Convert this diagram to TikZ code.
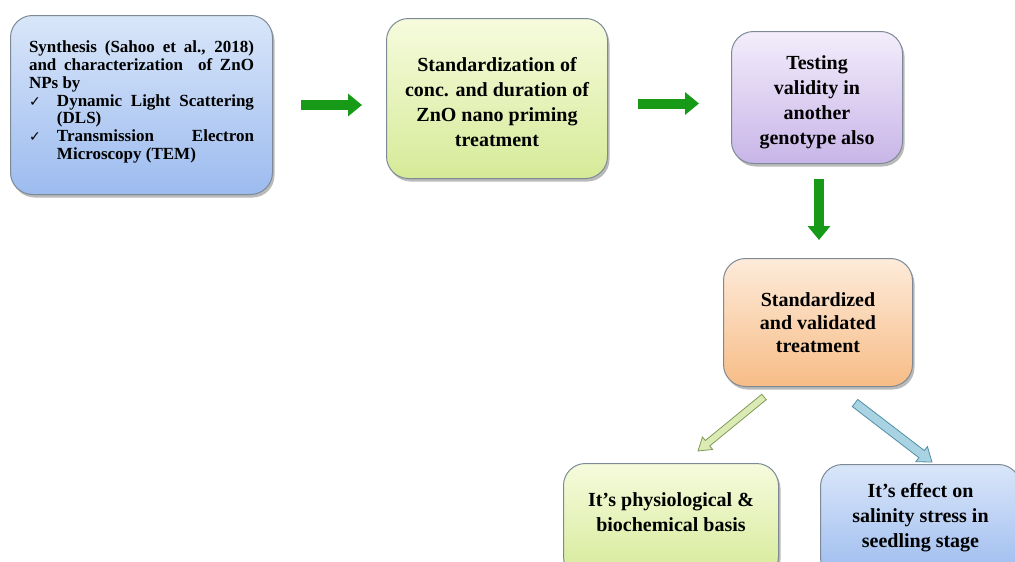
\documentclass[tikz,border=0pt]{standalone}
\usepackage{fontspec}
\setmainfont{Liberation Serif}
\newfontfamily\checkfont{DejaVu Sans}
\usetikzlibrary{shadows,arrows.meta,calc}
\definecolor{bluetop}{HTML}{D9E6F9}
\definecolor{bluebot}{HTML}{9CBBEF}
\definecolor{greentop}{HTML}{F6FBDD}
\definecolor{greenbot}{HTML}{D6EA98}
\definecolor{purptop}{HTML}{F3EDFB}
\definecolor{purpbot}{HTML}{C8B5E8}
\definecolor{orgtop}{HTML}{FDEBDA}
\definecolor{orgbot}{HTML}{F7BC86}
\definecolor{boxline}{HTML}{7D8A96}
\definecolor{arrgreen}{HTML}{169A18}
\definecolor{lgfill}{HTML}{DCEBB4}
\definecolor{lgline}{HTML}{7F9A58}
\definecolor{lbfill}{HTML}{A9D3E2}
\definecolor{lbline}{HTML}{4F8FA6}
\tikzset{
  box/.style={rounded corners=22pt, draw=boxline, line width=1pt, align=center,
    font=\bfseries\fontsize{20}{25}\selectfont,
    drop shadow={shadow xshift=2pt, shadow yshift=-3pt, fill=black!45, opacity=0.6}},
  bluebox/.style={box, top color=bluetop, bottom color=bluebot},
  greenbox/.style={box, top color=greentop, bottom color=greenbot},
  purpbox/.style={box, top color=purptop, bottom color=purpbot},
  orgbox/.style={box, top color=orgtop, bottom color=orgbot},
  bigarrow/.style={draw=arrgreen, line width=10pt, -{Triangle[width=22pt,length=14pt]}},
}
\newcommand{\chk}{\makebox[28pt][l]{\checkfont\mdseries\fontsize{14}{14}\selectfont ✓}}
\begin{document}
\begin{tikzpicture}[x=1pt,y=-1pt]
\useasboundingbox (0,0) rectangle (1015,562);
\begin{scope}
\clip (0,0) rectangle (1015,562);
% box 1
\node[bluebox, minimum width=262pt, minimum height=179pt, anchor=north west,
  text width=225pt, align=justify, font=\bfseries\fontsize{17}{17.8}\selectfont]
  (b1) at (10,15) {\hyphenpenalty=10000\exhyphenpenalty=10000 Synthesis (Sahoo et al., 2018) and characterization\ \ of ZnO NPs by\par
  \hangindent=28pt\hangafter=1\noindent\chk Dynamic Light Scattering (DLS)\par
  \hangindent=28pt\hangafter=1\noindent\chk Transmission Electron Microscopy (TEM)\par\kern6pt\hrule height0pt};
% box 2
\node[greenbox, minimum width=221pt, minimum height=160pt, anchor=north west]
  (b2) at (386,18) {\rule{0pt}{22pt}Standardization of\\conc. and duration of\\ZnO nano priming\\treatment};
% box 3
\node[purpbox, minimum width=171pt, minimum height=132pt, anchor=north west]
  (b3) at (731,31) {\rule{0pt}{24pt}Testing\\validity in\\another\\genotype also};
% box 4
\node[orgbox, minimum width=189pt, minimum height=128pt, anchor=north west]
  (b4) at (723,258) {Standardized\\[-2pt]and validated\\[-2pt]treatment};
% box 5
\node[greenbox, minimum width=215pt, minimum height=115pt, anchor=north west, text depth=18pt]
  (b5) at (563,463) {It’s physiological \&\\biochemical basis};
% box 6
\node[bluebox, minimum width=200pt, minimum height=115pt, anchor=north west, text depth=14pt]
  (b6) at (820,464) {It’s effect on\\salinity stress in\\seedling stage};
\end{scope}
% green arrows
\draw[bigarrow] ($(b1.east)+(28,0)$) -- ($(b1.east -| b2.west)+(-24,0)$);
\draw[bigarrow] ($(b2.east)+(30,5)$) -- ($(b2.east -| b3.west)+(-32,5)$);
\draw[bigarrow] ($(b3.south)+(2,15)$) -- ($(b3.south |- b4.north)+(2,-18)$);
% outline arrows
\coordinate (a1s) at (764,397);
\coordinate (a1e) at (698,451);
\coordinate (a2s) at (855,403);
\coordinate (a2e) at (932,462);
\begin{scope}[shift={(a1s)}, rotate=-140.7, x=1pt, y=1pt]
  \draw[draw=lgline, fill=lgfill, line width=0.8pt, line join=miter]
    (0,-3.5) -- (73,-3.5) -- (73,-8) -- (85.3,0) -- (73,8) -- (73,3.5) -- (0,3.5) -- cycle;
\end{scope}
\begin{scope}[shift={(a2s)}, rotate=-37.5, x=1pt, y=1pt]
  \draw[draw=lbline, fill=lbfill, line width=0.8pt, line join=miter]
    (0,-4.5) -- (84,-4.5) -- (84,-9.5) -- (97,0) -- (84,9.5) -- (84,4.5) -- (0,4.5) -- cycle;
\end{scope}
\end{tikzpicture}
\end{document}
